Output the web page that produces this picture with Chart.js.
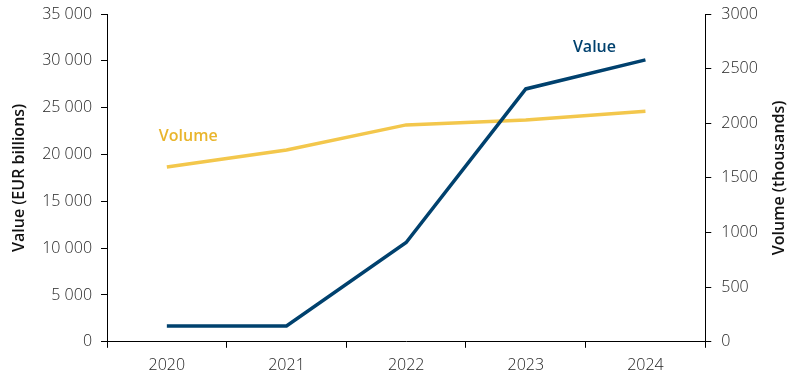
<!DOCTYPE html>
<html>
<head>
<meta charset="utf-8">
<script src="https://cdn.jsdelivr.net/npm/chart.js@4.4.1/dist/chart.umd.min.js"></script>
<style>
  html, body { margin: 0; padding: 0; background: #fff; }
  #wrap { width: 799px; height: 391px; }
</style>
</head>
<body>
<div id="wrap"><canvas id="myChart" width="799" height="391"></canvas></div>
<script>
const years = ['2020', '2021', '2022', '2023', '2024'];
const valueEur = [1700, 1700, 10600, 27000, 30100];
const volumeK = [1600, 1755, 1985, 2030, 2110];

const navy = '#00416e';
const yellow = '#f3c74c';

// series names next to their lines, and the right axis title read bottom-up
const extras = {
  id: 'extras',
  afterDatasetsDraw(chart) {
    const ctx = chart.ctx;
    ctx.save();
    ctx.font = '600 16px "Open Sans"';
    ctx.textBaseline = 'middle';
    const vol = chart.getDatasetMeta(1).data[0];
    ctx.fillStyle = '#e9b52c';
    ctx.textAlign = 'left';
    ctx.fillText('Volume', vol.x - 8, vol.y - 31);
    const val = chart.getDatasetMeta(0).data[4];
    ctx.fillStyle = navy;
    ctx.textAlign = 'center';
    ctx.fillText('Value', val.x - 51, val.y - 12);

    const y1 = chart.scales.y1;
    ctx.font = '600 16px "Open Sans"';
    ctx.fillStyle = '#111';
    ctx.translate(y1.right - 10, (y1.top + y1.bottom) / 2);
    ctx.rotate(-Math.PI / 2);
    ctx.fillText('Volume (thousands)', 0, 0);
    ctx.restore();
  }
};

const spaced = v => String(v).replace(/\B(?=(\d{3})+(?!\d))/g, ' ');
const noTopPad = s => { s.paddingTop = 0; };

const data = {
  labels: years,
  datasets: [
    {
      label: 'Value',
      data: valueEur,
      yAxisID: 'y',
      borderColor: navy,
      backgroundColor: navy,
      borderWidth: 3.5,
      pointRadius: 0,
      tension: 0,
    },
    {
      label: 'Volume',
      data: volumeK,
      yAxisID: 'y1',
      borderColor: yellow,
      backgroundColor: yellow,
      borderWidth: 3.5,
      pointRadius: 0,
      tension: 0,
    }
  ]
};

const tickFont = { family: '"Open Sans"', size: 16, weight: '300' };
const titleFont = { family: '"Open Sans"', size: 16, weight: '600' };

const config = {
  type: 'line',
  data: data,
  options: {
    responsive: false,
    animation: false,
    layout: { padding: { left: 10, right: 10, top: 14, bottom: 8 } },
    plugins: {
      legend: { display: false },
      tooltip: { enabled: false }
    },
    scales: {
      x: {
        offset: true,
        grid: { offset: true, drawOnChartArea: false, color: '#000', tickLength: 6 },
        border: { color: '#000', width: 1 },
        ticks: { color: '#1e1e1e', font: tickFont, padding: 8 }
      },
      y: {
        position: 'left',
        min: 0, max: 35000,
        afterFit: noTopPad,
        grid: { drawOnChartArea: false, color: '#000', tickLength: 6 },
        border: { color: '#000', width: 1 },
        ticks: { stepSize: 5000, color: '#1e1e1e', font: tickFont, padding: 9, callback: v => spaced(v) },
        title: { display: true, text: 'Value (EUR billions)', color: '#111', font: titleFont, padding: { top: 0, bottom: 4 } }
      },
      y1: {
        position: 'right',
        min: 0, max: 3000,
        afterFit: noTopPad,
        grid: { drawOnChartArea: false, color: '#000', tickLength: 6 },
        border: { color: '#000', width: 1 },
        ticks: { stepSize: 500, color: '#1e1e1e', font: tickFont, padding: 10, callback: v => String(v) },
        title: { display: true, text: 'Volume (thousands)', color: 'rgba(0,0,0,0)', font: titleFont, padding: { top: 2, bottom: 0 } }
      }
    }
  },
  plugins: [extras]
};

let ctx = document.getElementById('myChart').getContext('2d');
let chart = new Chart(ctx, config);
</script>
</body>
</html>
